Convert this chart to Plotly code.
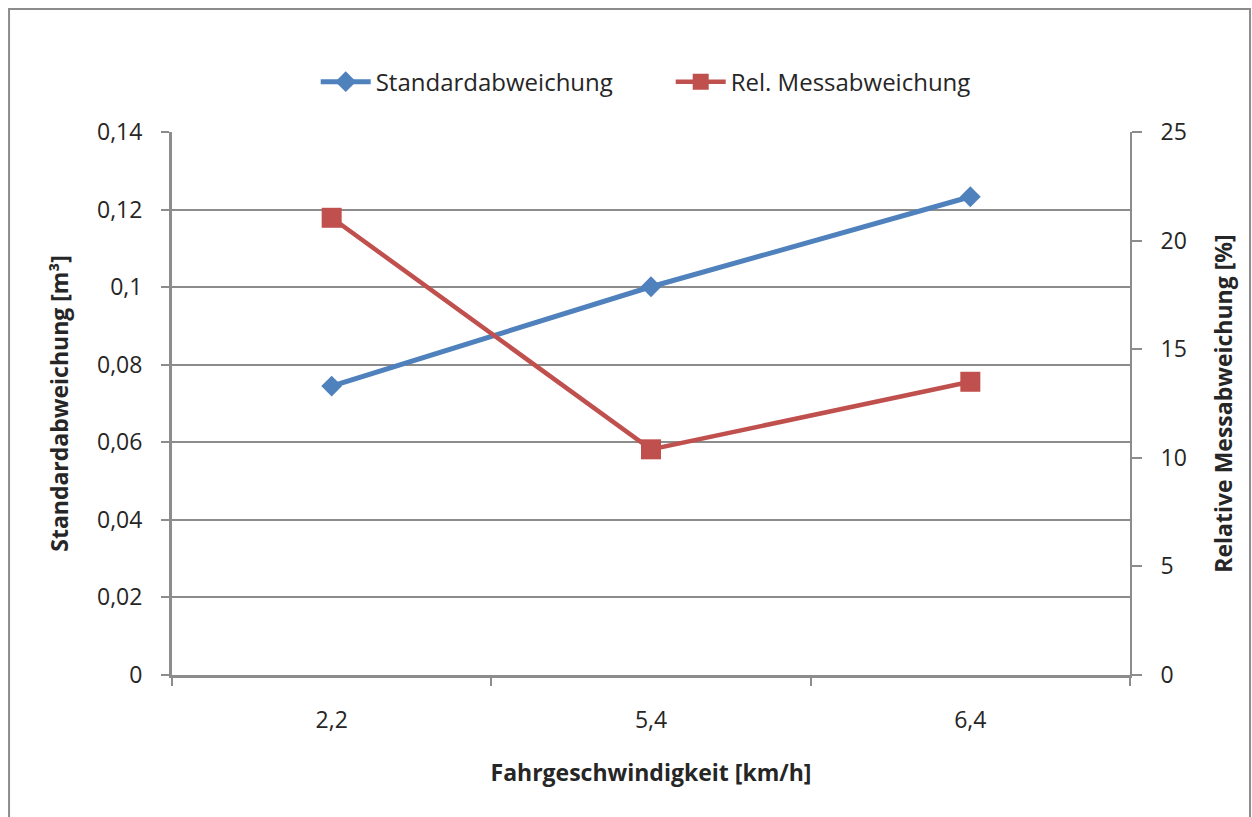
import plotly.graph_objects as go

# Fahrgeschwindigkeit categories and measured values
speeds = ["2,2", "5,4", "6,4"]
std_dev = [0.0745, 0.1001, 0.1233]          # Standardabweichung [m³]
rel_error = [21.05, 10.39, 13.50]           # Relative Messabweichung [%]

left_ticks = [0, 0.02, 0.04, 0.06, 0.08, 0.10, 0.12, 0.14]
left_labels = ["0", "0,02", "0,04", "0,06", "0,08", "0,1", "0,12", "0,14"]
right_ticks = [0, 5, 10, 15, 20, 25]
right_labels = ["0", "5", "10", "15", "20", "25"]

BLUE = "#4F81BD"
RED = "#C0504D"
GRID = "#8C8C8C"
TEXT = "#262626"
FONT = "Open Sans"

fig = go.Figure()
fig.add_trace(go.Scatter(
    x=speeds, y=std_dev, name="Standardabweichung", mode="lines+markers",
    line=dict(color=BLUE, width=5),
    marker=dict(symbol="diamond", size=16, color=BLUE),
    yaxis="y",
))
fig.add_trace(go.Scatter(
    x=speeds, y=rel_error, name="Rel. Messabweichung", mode="lines+markers",
    line=dict(color=RED, width=4.5),
    marker=dict(symbol="square", size=20, color=RED),
    yaxis="y2",
))

fig.update_layout(
    width=1252, height=817,
    margin=dict(l=172, r=122, t=132, b=142),
    paper_bgcolor="white", plot_bgcolor="white",
    font=dict(family=FONT, size=23, color=TEXT),
    showlegend=True,
    legend=dict(orientation="h", x=0.150, xanchor="left", y=1.092, yanchor="middle",
                font=dict(family=FONT, size=24, color=TEXT), itemwidth=50,
                entrywidth=290, entrywidthmode="pixels",
                bgcolor="rgba(0,0,0,0)"),
    xaxis=dict(
        type="category", range=[-0.5, 2.5], tickson="boundaries",
        showline=True, linecolor=GRID, linewidth=3,
        ticks="outside", ticklen=8, tickwidth=2, tickcolor=GRID,
        ticklabelstandoff=22, showgrid=False, zeroline=False,
        tickfont=dict(family=FONT, size=23, color=TEXT),
        title=dict(text="<b>Fahrgeschwindigkeit [km/h]</b>", standoff=32,
                   font=dict(family=FONT, size=23, color=TEXT)),
    ),
    yaxis=dict(
        range=[0, 0.14], tickvals=left_ticks, ticktext=left_labels,
        showline=True, linecolor=GRID, linewidth=3,
        ticks="outside", ticklen=8, tickwidth=2, tickcolor=GRID,
        ticklabelstandoff=14,
        showgrid=True, gridcolor=GRID, gridwidth=2, zeroline=False,
        tickfont=dict(family=FONT, size=23, color=TEXT),
        title=dict(text="<b>Standardabweichung [m³]</b>", standoff=22,
                   font=dict(family=FONT, size=23, color=TEXT)),
    ),
    yaxis2=dict(
        range=[0, 25], tickvals=right_ticks, ticktext=right_labels,
        overlaying="y", side="right",
        showline=True, linecolor=GRID, linewidth=2,
        ticks="outside", ticklen=10, tickwidth=2, tickcolor=GRID,
        ticklabelstandoff=14,
        showgrid=False, zeroline=False,
        tickfont=dict(family=FONT, size=23, color=TEXT),
        title=dict(text="<b>Relative Messabweichung [%]</b>", standoff=30,
                   font=dict(family=FONT, size=23, color=TEXT)),
    ),
)

# Outer chart frame
fig.add_shape(type="rect", xref="paper", yref="paper",
              x0=-0.1701, x1=1.1253, y0=-0.30, y1=1.2265,
              line=dict(color=GRID, width=2), fillcolor="rgba(0,0,0,0)", layer="below")

fig.write_html("out.html")
